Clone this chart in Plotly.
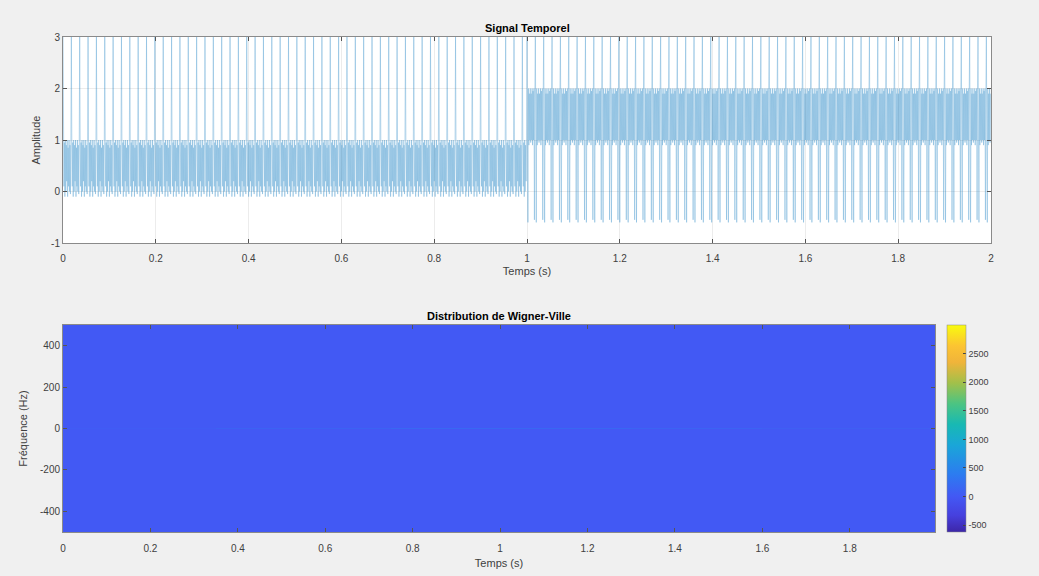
import numpy as np
import plotly.graph_objects as go

# ---- data ----
# one repeating cycle of samples (fs = 1000 Hz) in each half of the signal
seg1_cycle = [3.0, 0.9, 0.1, 0.95, -0.1, 1.0, 0.0, 0.9, 0.2, 1.0, -0.1, 0.85, 0.1, 1.0, 0.0, 0.9, -0.05, 0.95]
seg2_cycle = [3.0, 1.0, -0.6, 2.0, 0.9, 1.9, 1.0, 2.0, 0.95, 1.9, 1.0, 2.0, 0.9, 1.95, 1.0, 2.0, -0.55, 1.9]
fs = 1000
seg_samples = 1000

# Wigner-Ville map (coarse bricks)
wv_time_edges = [0.0, 0.35, 0.75, 1.0, 1.3, 1.6, 1.995]
wv_freq_edges = [-500, -3, 3, 500]
wv_z = [
    [5, 5, 5, 5, 5, 5],
    [40, 110, 170, 160, 120, 70],
    [5, 5, 5, 5, 5, 5],
]
cb_ticks = [-500, 0, 500, 1000, 1500, 2000, 2500]
z_lo, z_hi = -620, 3000

top_x_ticks = [0, 0.2, 0.4, 0.6, 0.8, 1, 1.2, 1.4, 1.6, 1.8, 2]
top_y_ticks = [-1, 0, 1, 2, 3]
bot_x_ticks = [0, 0.2, 0.4, 0.6, 0.8, 1, 1.2, 1.4, 1.6, 1.8]
bot_y_ticks = [-400, -200, 0, 200, 400]

# ---- build signal ----
s1 = np.resize(np.array(seg1_cycle), seg_samples)
s2 = np.resize(np.array(seg2_cycle), seg_samples)
signal = np.concatenate([s1, s2])
t = np.arange(signal.size) / fs


def lab(v):
    return ("%g" % v)


parula = [
    [0.0, "#3d26a8"], [0.08, "#4640de"], [0.17, "#4358f4"], [0.28, "#2c7cf0"],
    [0.42, "#1aa6d8"], [0.52, "#18b9b3"], [0.62, "#4cc482"], [0.72, "#a2c04a"],
    [0.82, "#f0b43a"], [0.9, "#fcc432"], [1.0, "#f9fb0e"],
]

fig = go.Figure()
fig.add_trace(go.Scatter(x=t, y=signal, mode="lines",
                         line=dict(color="#0072BD", width=0.5),
                         opacity=0.55, xaxis="x", yaxis="y", showlegend=False,
                         hoverinfo="skip"))
fig.add_trace(go.Heatmap(x=wv_time_edges, y=wv_freq_edges, z=wv_z,
                         colorscale=parula, zmin=z_lo, zmax=z_hi,
                         xaxis="x2", yaxis="y2",
                         colorbar=dict(x=947/1039, xanchor="left", thickness=19,
                                       xpad=0, ypad=0,
                                       len=(532-325)/576, lenmode="fraction",
                                       y=1-(428.5/576), yanchor="middle",
                                       tickvals=cb_ticks, ticktext=[lab(v) for v in cb_ticks],
                                       ticks="inside", ticklen=3,
                                       outlinewidth=0.5, outlinecolor="#888",
                                       tickfont=dict(size=9, color="#404040"))))

axis_common = dict(showline=True, linecolor="#8a8a8a", linewidth=1, mirror="ticks",
                   ticks="inside", ticklen=4, tickcolor="#555", automargin=False,
                   tickfont=dict(size=10, color="#404040", family="Liberation Sans, Arial"),
                   zeroline=False)

fig.update_layout(
    width=1039, height=576, margin=dict(l=0, r=0, t=0, b=0, autoexpand=False),
    paper_bgcolor="#f0f0f0", plot_bgcolor="white",
    font=dict(family="Liberation Sans, Arial", color="#404040"),
    xaxis=dict(domain=[63/1039, 991/1039], anchor="y", range=[0, 2],
               tickvals=top_x_ticks, ticktext=[lab(v) for v in top_x_ticks],
               showgrid=True, gridcolor="#ececec", ticklabelstandoff=6,
               title=dict(text="Temps (s)", font=dict(size=11), standoff=4),
               **axis_common),
    yaxis=dict(domain=[1-243/576, 1-37/576], anchor="x", range=[-1, 3],
               tickvals=top_y_ticks, ticktext=[lab(v) for v in top_y_ticks],
               showgrid=True, gridcolor="#ececec",
               title=dict(text="Amplitude", font=dict(size=11), standoff=8),
               **axis_common),
    xaxis2=dict(domain=[63/1039, 935/1039], anchor="y2", range=[0, 1.995],
                tickvals=bot_x_ticks, ticktext=[lab(v) for v in bot_x_ticks],
                showgrid=False, ticklabelstandoff=7,
                title=dict(text="Temps (s)", font=dict(size=11), standoff=6),
                **axis_common),
    yaxis2=dict(domain=[1-532/576, 1-325/576], anchor="x2", range=[-500, 500],
                tickvals=bot_y_ticks, ticktext=[lab(v) for v in bot_y_ticks],
                showgrid=False,
                title=dict(text="Fréquence (Hz)", font=dict(size=11), standoff=10),
                **axis_common),
    annotations=[
        dict(text="<b>Signal Temporel</b>", x=(63+991)/2/1039, y=1-28/576,
             xref="paper", yref="paper", showarrow=False, yanchor="middle",
             font=dict(size=11, color="black")),
        dict(text="<b>Distribution de Wigner-Ville</b>", x=(63+935)/2/1039, y=1-316/576,
             xref="paper", yref="paper", showarrow=False, yanchor="middle",
             font=dict(size=11, color="black")),
    ],
)

fig.write_html("out.html")
